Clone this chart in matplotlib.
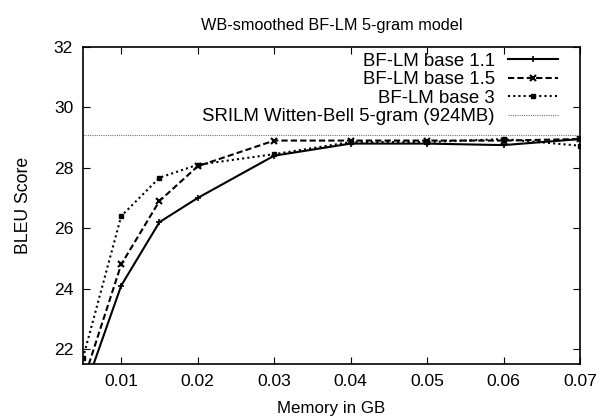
import matplotlib.pyplot as plt

# memory sizes in GB
memory = [0.005, 0.01, 0.015, 0.02, 0.03, 0.04, 0.05, 0.06, 0.07]

# BLEU scores
bleu_base_1_1 = [20.5, 24.1, 26.2, 27.0, 28.4, 28.8, 28.8, 28.75, 28.95]
bleu_base_1_5 = [20.9, 24.8, 26.9, 28.05, 28.9, 28.9, 28.9, 28.9, 28.95]
bleu_base_3 = [21.7, 26.4, 27.67, 28.1, 28.45, 28.85, 28.85, 28.95, 28.73]
srilm_bleu = 29.07

plt.rcParams['font.family'] = ['Liberation Sans', 'DejaVu Sans']
plt.rcParams['font.size'] = 12

fig = plt.figure(figsize=(6.03, 4.19), dpi=100)
ax = fig.add_axes([0.1376, 0.131, 0.8244, 0.757])

ax.plot(memory, bleu_base_1_1, color='black', linestyle='-', linewidth=1.5,
        marker='+', markersize=4, markeredgewidth=1.2, label='BF-LM base 1.1')
ax.plot(memory, bleu_base_1_5, color='black', linestyle=(0, (3, 1.5)), linewidth=1.5,
        marker='x', markersize=4, markeredgewidth=1.5, label='BF-LM base 1.5')
ax.plot(memory, bleu_base_3, color='black', linestyle=(0, (1, 1.5)), linewidth=1.5,
        marker='s', markersize=3.5, label='BF-LM base 3')
ax.axhline(srilm_bleu, color='#777777', linestyle=(0, (1, 1)), linewidth=0.8,
           label='SRILM Witten-Bell 5-gram (924MB)')

ax.set_xlim(0.005, 0.07)
ax.set_ylim(21.5, 32)
ax.set_xticks([0.01, 0.02, 0.03, 0.04, 0.05, 0.06, 0.07])
ax.set_xticklabels(['0.01', '0.02', '0.03', '0.04', '0.05', '0.06', '0.07'])
ax.set_yticks([22, 24, 26, 28, 30, 32])
ax.tick_params(direction='in', top=True, right=True, length=5, labelsize=12.6)
ax.tick_params(axis='x', pad=7)
ax.tick_params(axis='y', pad=7)
for s in ax.spines.values():
    s.set_linewidth(1.2)

ax.set_title('WB-smoothed BF-LM 5-gram model', fontsize=11.7, pad=12)
ax.set_xlabel('Memory in GB', fontsize=12.2, labelpad=9)
ax.set_ylabel('BLEU Score', fontsize=12.7, labelpad=16)

ax.legend(loc='upper right', bbox_to_anchor=(0.967, 1.0), frameon=False,
          markerfirst=False, fontsize=13.4, handlelength=2.7,
          handletextpad=0.7, labelspacing=0.08, borderaxespad=0,
          borderpad=0.3)

fig.savefig('out.png')
